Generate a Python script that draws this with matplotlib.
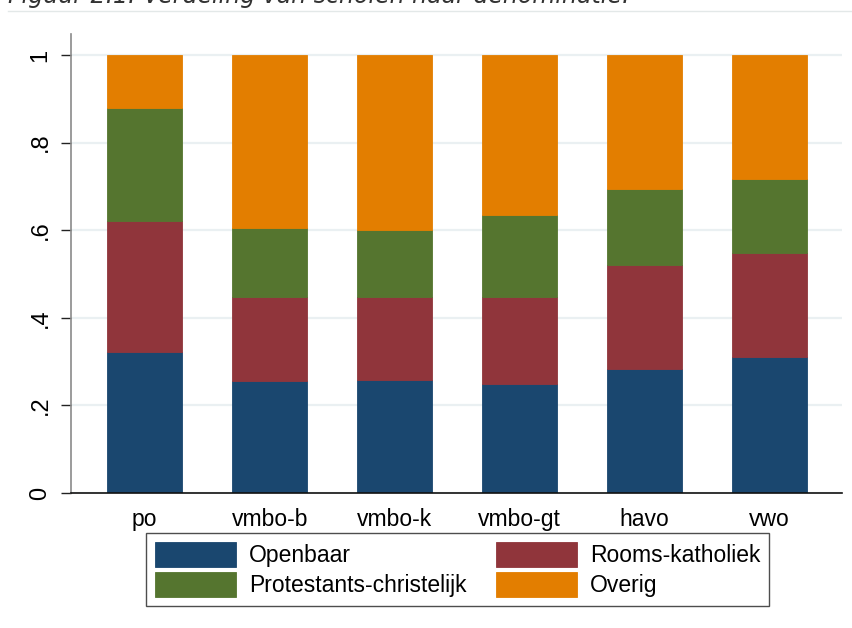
import matplotlib
matplotlib.use('agg')
import matplotlib.pyplot as plt
from matplotlib.lines import Line2D
import numpy as np

plt.rcParams['font.family'] = ['Liberation Sans', 'DejaVu Sans']

# schooltypes and share per denomination
categories = ['po', 'vmbo-b', 'vmbo-k', 'vmbo-gt', 'havo', 'vwo']
openbaar = [0.322, 0.256, 0.258, 0.250, 0.283, 0.311]
rooms_katholiek = [0.299, 0.191, 0.189, 0.197, 0.237, 0.236]
protestants_christelijk = [0.257, 0.158, 0.153, 0.187, 0.174, 0.169]
overig = [0.122, 0.395, 0.400, 0.366, 0.306, 0.284]

series = [
    ('Openbaar', openbaar, '#1a476f'),
    ('Rooms-katholiek', rooms_katholiek, '#90353b'),
    ('Protestants-christelijk', protestants_christelijk, '#55752f'),
    ('Overig', overig, '#e37e00'),
]
yticks = [0, 0.2, 0.4, 0.6, 0.8, 1.0]
yticklabels = ['0', '.2', '.4', '.6', '.8', '1']

fig = plt.figure(figsize=(8.52, 6.28), dpi=100)
ax = fig.add_axes([71 / 852, 135 / 628, 771 / 852, 459 / 628])

x = np.arange(len(categories))
bottom = np.zeros(len(categories))
handles = {}
for name, vals, color in series:
    bars = ax.bar(x, vals, width=0.6, bottom=bottom, color=color,
                  edgecolor=color, linewidth=0.6, zorder=2)
    handles[name] = bars
    bottom += np.array(vals)

ax.set_xlim(-0.59, 5.58)
ax.set_ylim(0, 1.048)
ax.set_yticks(yticks)
ax.set_yticklabels(yticklabels, rotation=90, va='center', fontsize=17)
ax.set_xticks(x)
ax.set_xticklabels(categories, fontsize=16.5)
ax.tick_params(axis='x', length=0, pad=11)
ax.tick_params(axis='y', length=7, width=1, pad=7, color='#222222')

ax.yaxis.grid(True, color='#eaf0f2', linewidth=1.6, zorder=0)
ax.set_axisbelow(True)
for s in ['top', 'right']:
    ax.spines[s].set_visible(False)
ax.spines['left'].set_color('#8a8a8a')
ax.spines['left'].set_linewidth(1.2)
ax.spines['bottom'].set_color('#111111')
ax.spines['bottom'].set_linewidth(1.2)

# matplotlib fills legend columns first, so order for row-wise reading
order = ['Openbaar', 'Protestants-christelijk', 'Rooms-katholiek', 'Overig']
leg = fig.legend([handles[n] for n in order], order, ncol=2,
                 loc='center', bbox_to_anchor=(457.5 / 852, 1 - 569.5 / 628),
                 fontsize=16.5, frameon=True, fancybox=False,
                 handlelength=3.55, handleheight=1.3, handletextpad=0.55,
                 columnspacing=1.3, labelspacing=0.2, borderpad=0.4,
                 borderaxespad=0)
leg.get_frame().set_edgecolor('#222222')
leg.get_frame().set_linewidth(1.0)

# clipped caption of the page above the figure
fig.text(8 / 852, 1 - 3 / 628, 'Figuur 2.1: Verdeling van scholen naar denominatie.',
         fontsize=17, style='italic', family='DejaVu Sans', color='#333333',
         va='baseline', ha='left')
fig.add_artist(Line2D([8 / 852, 1.0], [1 - 11 / 628, 1 - 11 / 628],
                      color='#e3e8e8', linewidth=1, transform=fig.transFigure))

fig.savefig('out.png', dpi=100)
